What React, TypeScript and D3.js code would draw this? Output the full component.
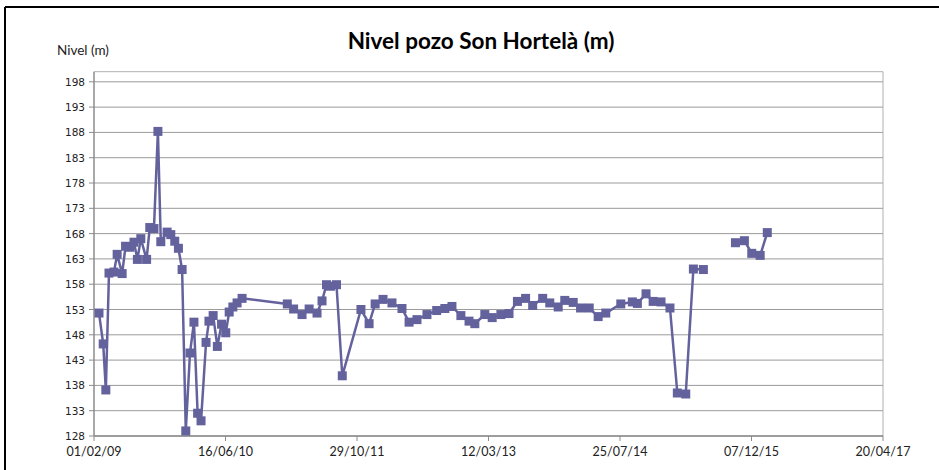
import React from "react";
import * as d3 from "d3";

const dates: string[] = [
  "2009-02-20","2009-03-08","2009-03-18","2009-03-30","2009-04-18","2009-04-30","2009-05-19","2009-06-01",
  "2009-06-17","2009-07-03","2009-07-16","2009-07-29","2009-08-20","2009-09-01","2009-09-17","2009-10-02",
  "2009-10-13","2009-11-06","2009-11-20","2009-12-05","2009-12-19","2010-01-02","2010-01-16","2010-02-01",
  "2010-02-16","2010-03-02","2010-03-15","2010-04-03","2010-04-14","2010-04-30","2010-05-16","2010-06-01",
  "2010-06-17","2010-06-30","2010-07-14","2010-07-30","2010-08-18","2011-02-06","2011-03-02","2011-04-03",
  "2011-04-30","2011-05-30","2011-06-18","2011-07-05","2011-07-20","2011-08-12","2011-09-03","2011-11-13",
  "2011-12-14","2012-01-06","2012-02-05","2012-03-10","2012-04-17","2012-05-14","2012-06-13","2012-07-21",
  "2012-08-27","2012-09-27","2012-10-24","2012-11-27","2012-12-28","2013-01-19","2013-02-26","2013-03-26",
  "2013-04-28","2013-05-29","2013-06-30","2013-07-31","2013-08-27","2013-10-04","2013-10-31","2013-12-02",
  "2013-12-27","2014-01-28","2014-02-25","2014-03-30","2014-05-03","2014-06-01","2014-07-28","2014-09-10",
  "2014-09-29","2014-11-01","2014-11-28","2014-12-28","2015-01-31","2015-02-28","2015-04-01","2015-04-30",
  "2015-06-07","2015-08-20","2015-10-07","2015-11-10","2015-12-08","2016-01-09","2016-02-05"
];

const levels: (number | null)[] = [
  152.3,146.2,137.1,160.2,160.4,163.9,160.1,165.5,
  165.3,166.3,162.9,167.0,162.9,169.2,169.0,188.2,
  166.4,168.3,167.8,166.5,165.1,160.9,129.0,144.4,
  150.5,132.5,131.0,146.5,150.7,151.8,145.7,150.1,
  148.4,152.5,153.5,154.3,155.2,154.1,153.1,152.0,
  153.1,152.3,154.7,157.9,157.6,157.9,139.9,153.0,
  150.2,154.1,155.0,154.3,153.2,150.5,151.0,152.0,
  152.8,153.2,153.6,151.8,150.7,150.2,152.0,151.4,
  152.0,152.2,154.6,155.2,153.8,155.2,154.3,153.5,
  154.8,154.4,153.3,153.3,151.6,152.3,154.1,154.5,
  154.2,156.1,154.6,154.5,153.3,136.5,136.3,161.0,
  160.9,null,166.2,166.6,164.1,163.7,168.2
];

const yTicks: number[] = d3.range(128, 199, 5);
const xStart = "2009-02-01";
const xEnd = "2017-04-20";
const xTickStepDays = 500;

const title = "Nivel pozo Son Hortelà (m)";
const yTitle = "Nivel (m)";

export default function App() {
  const W = 939, H = 470;
  const left = 94, right = 883, top = 71.7, bottom = 436;
  const parse = d3.timeParse("%Y-%m-%d");
  const d0 = parse(xStart)!;
  const d1 = parse(xEnd)!;
  const x = d3.scaleTime().domain([d0, d1]).range([left, right]);
  const y = d3.scaleLinear().domain([128, 200]).range([bottom, top]);
  const fmt = d3.timeFormat("%d/%m/%y");
  const xTicks = d3.range(0, 3001, xTickStepDays).map((d) => d3.timeDay.offset(d0, d));
  const pts = dates.map((s, i) => ({ d: parse(s)!, v: levels[i] }));
  const line = d3
    .line<{ d: Date; v: number | null }>()
    .defined((p) => p.v != null)
    .x((p) => x(p.d))
    .y((p) => y(p.v as number));
  const color = "#64629D";
  const sq = 9;
  return (
    <svg width={W} height={H} style={{ position: "absolute", left: 0, top: 0, background: "#fff" }}>
      <rect x={0} y={0} width={W} height={H} fill="#fff" />
      <line x1={5} y1={7} x2={W} y2={7} stroke="#000" strokeWidth={2} />
      <line x1={5} y1={7} x2={5} y2={H} stroke="#000" strokeWidth={2} />
      {yTicks.map((t) => (
        <line key={"g" + t} x1={left} x2={right} y1={y(t)} y2={y(t)} stroke="#9a9a9a" strokeWidth={1} />
      ))}
      <line x1={left} x2={right} y1={top} y2={top} stroke="#b0b0b0" strokeWidth={1} />
      <line x1={right} x2={right} y1={top} y2={bottom} stroke="#b0b0b0" strokeWidth={1} />
      <line x1={left} x2={right} y1={bottom} y2={bottom} stroke="#8c8c8c" strokeWidth={1.5} />
      <line x1={left} x2={left} y1={top} y2={bottom} stroke="#8c8c8c" strokeWidth={1.5} />
      {yTicks.map((t) => (
        <g key={"yt" + t}>
          <line x1={left - 5} x2={left} y1={y(t)} y2={y(t)} stroke="#8c8c8c" strokeWidth={1} />
          <text x={85} y={y(t) + 4} textAnchor="end" fontFamily="DejaVu Sans" fontSize={10.5} fill="#222">
            {t}
          </text>
        </g>
      ))}
      {xTicks.map((t, i) => (
        <g key={"xt" + i}>
          <line x1={x(t)} x2={x(t)} y1={bottom} y2={bottom + 5} stroke="#8c8c8c" strokeWidth={1} />
          <text x={x(t)} y={456} textAnchor="middle" fontFamily="Lato" fontSize={12.5} fill="#222">
            {fmt(t)}
          </text>
        </g>
      ))}
      <path d={line(pts) || ""} fill="none" stroke={color} strokeWidth={2.5} />
      {pts
        .filter((p) => p.v != null)
        .map((p, i) => (
          <rect key={"p" + i} x={x(p.d) - sq / 2} y={y(p.v as number) - sq / 2} width={sq} height={sq} fill={color} />
        ))}
      <text x={481} y={49} textAnchor="middle" fontFamily="Lato" fontWeight="bold" fontSize={22.5} fill="#000">
        {title}
      </text>
      <text x={57} y={55} fontFamily="Lato" fontSize={13.5} fill="#222">
        {yTitle}
      </text>
    </svg>
  );
}
